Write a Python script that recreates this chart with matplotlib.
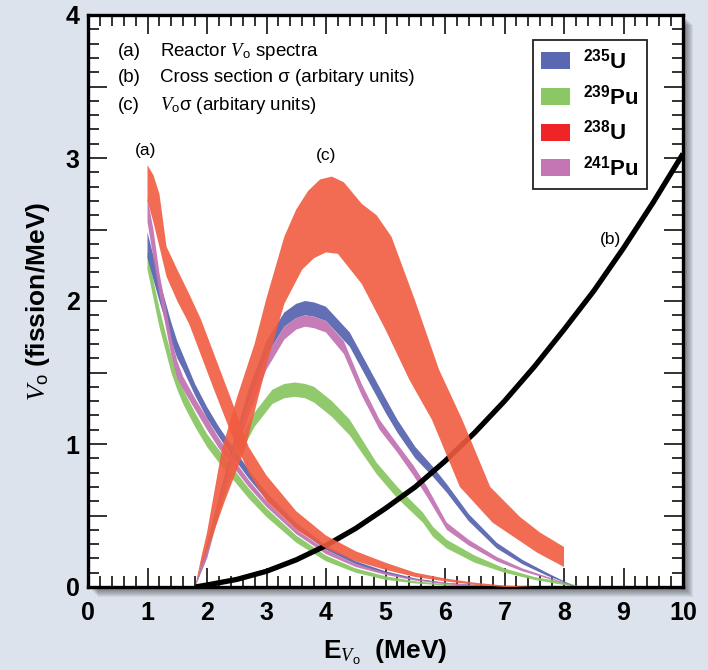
import matplotlib
matplotlib.use('Agg')
import matplotlib.pyplot as plt
import numpy as np
from matplotlib.patches import Patch, Rectangle

plt.rcParams['font.family'] = ['Liberation Sans', 'DejaVu Sans']
plt.rcParams['mathtext.fontset'] = 'custom'
plt.rcParams['mathtext.it'] = 'Liberation Serif:italic'
plt.rcParams['mathtext.rm'] = 'Liberation Sans'
plt.rcParams['mathtext.bf'] = 'Liberation Sans:bold'

# ── data ─────────────────────────────────────────────────────────────────────
# (a) reactor spectra, bands (upper / lower)
u5a_e  = [1.0, 1.2, 1.4, 1.5, 1.6, 1.8, 2.0, 2.2, 2.4, 2.7, 3.0, 3.5, 4.0, 4.5, 5.0, 5.5, 6.0, 6.5, 7.0, 7.5]
u5a_hi = [2.48, 2.15, 1.85, 1.72, 1.62, 1.42, 1.26, 1.12, 1.0, 0.82, 0.66, 0.45, 0.29, 0.18, 0.11, 0.06, 0.03, 0.015, 0.005, 0.0]
u5a_lo = [2.30, 2.0, 1.72, 1.60, 1.52, 1.34, 1.18, 1.05, 0.93, 0.76, 0.61, 0.41, 0.26, 0.16, 0.09, 0.05, 0.025, 0.01, 0.0, 0.0]

pu9a_e  = [1.0, 1.2, 1.4, 1.5, 1.6, 1.8, 2.0, 2.2, 2.4, 2.7, 3.0, 3.5, 4.0, 4.5, 5.0, 5.5, 6.0, 6.5, 7.0, 7.5]
pu9a_hi = [2.34, 1.95, 1.62, 1.48, 1.38, 1.22, 1.07, 0.96, 0.85, 0.69, 0.55, 0.36, 0.22, 0.13, 0.075, 0.04, 0.02, 0.01, 0.0, 0.0]
pu9a_lo = [2.22, 1.82, 1.50, 1.38, 1.28, 1.12, 0.98, 0.87, 0.77, 0.62, 0.49, 0.31, 0.18, 0.10, 0.05, 0.025, 0.01, 0.0, 0.0, 0.0]

u8a_e  = [1.0, 1.1, 1.2, 1.32, 1.5, 1.7, 1.9, 2.1, 2.4, 2.7, 3.0, 3.5, 4.0, 4.5, 5.0, 5.5, 6.0, 6.5, 7.0, 7.5]
u8a_hi = [2.95, 2.88, 2.75, 2.38, 2.22, 2.05, 1.87, 1.65, 1.32, 0.98, 0.78, 0.53, 0.36, 0.25, 0.17, 0.10, 0.06, 0.03, 0.01, 0.0]
u8a_lo = [2.70, 2.55, 2.38, 2.17, 2.0, 1.84, 1.62, 1.40, 1.08, 0.80, 0.60, 0.40, 0.27, 0.18, 0.12, 0.07, 0.04, 0.015, 0.0, 0.0]

pu1a_e  = [1.0, 1.1, 1.2, 1.4, 1.5, 1.6, 1.8, 2.0, 2.2, 2.4, 2.7, 3.0, 3.5, 4.0, 4.5, 5.0, 5.5, 6.0, 6.5, 7.0]
pu1a_hi = [2.72, 2.5, 2.2, 1.75, 1.58, 1.47, 1.32, 1.18, 1.04, 0.92, 0.75, 0.60, 0.40, 0.26, 0.16, 0.10, 0.055, 0.03, 0.01, 0.0]
pu1a_lo = [2.55, 2.3, 2.05, 1.62, 1.46, 1.38, 1.24, 1.10, 0.97, 0.86, 0.70, 0.56, 0.37, 0.23, 0.14, 0.085, 0.045, 0.02, 0.005, 0.0]

# (c) spectrum x cross section
u5c_e  = [1.8, 2.0, 2.4, 2.7, 3.0, 3.3, 3.5, 3.65, 3.8, 4.0, 4.4, 4.7, 5.0, 5.2, 5.5, 5.8, 6.03, 6.4, 6.87, 7.3, 7.71, 8.2]
u5c_hi = [0, 0.3, 0.95, 1.38, 1.72, 1.92, 1.98, 2.0, 1.99, 1.96, 1.78, 1.55, 1.32, 1.17, 0.98, 0.84, 0.72, 0.51, 0.31, 0.19, 0.10, 0.0]
u5c_lo = [0, 0.22, 0.85, 1.27, 1.62, 1.82, 1.88, 1.90, 1.89, 1.86, 1.68, 1.45, 1.22, 1.08, 0.90, 0.77, 0.66, 0.46, 0.27, 0.16, 0.08, 0.0]

pu9c_e  = [1.8, 2.0, 2.2, 2.5, 2.8, 3.1, 3.3, 3.48, 3.65, 3.8, 4.1, 4.4, 4.85, 5.2, 5.63, 5.8, 6.03, 6.5, 7.0, 7.5, 8.05, 8.3]
pu9c_hi = [0, 0.28, 0.58, 0.98, 1.22, 1.38, 1.42, 1.43, 1.42, 1.40, 1.30, 1.17, 0.87, 0.70, 0.52, 0.42, 0.33, 0.22, 0.13, 0.07, 0.03, 0.0]
pu9c_lo = [0, 0.2, 0.5, 0.88, 1.12, 1.28, 1.32, 1.33, 1.32, 1.29, 1.19, 1.06, 0.79, 0.62, 0.45, 0.35, 0.27, 0.17, 0.10, 0.05, 0.01, 0.0]

pu1c_e  = [1.8, 2.0, 2.4, 2.7, 3.0, 3.3, 3.5, 3.65, 3.8, 4.0, 4.3, 4.6, 4.9, 5.2, 5.47, 5.7, 6.03, 6.4, 6.87, 7.3, 7.8, 8.2]
pu1c_hi = [0, 0.28, 0.9, 1.3, 1.62, 1.82, 1.88, 1.90, 1.89, 1.86, 1.72, 1.42, 1.17, 1.0, 0.85, 0.70, 0.45, 0.33, 0.21, 0.13, 0.06, 0.0]
pu1c_lo = [0, 0.2, 0.82, 1.2, 1.52, 1.73, 1.80, 1.82, 1.81, 1.78, 1.63, 1.34, 1.10, 0.94, 0.78, 0.63, 0.40, 0.29, 0.18, 0.11, 0.05, 0.0]

u8c_hi_e = [1.8, 1.9, 2.0, 2.25, 2.5, 2.8, 3.0, 3.3, 3.5, 3.7, 3.9, 4.1, 4.3, 4.6, 4.85, 5.1, 5.5, 5.9, 6.29, 6.76, 7.26, 7.6, 8.0]
u8c_hi   = [0.0, 0.2, 0.38, 0.96, 1.32, 1.70, 2.02, 2.45, 2.64, 2.77, 2.85, 2.87, 2.83, 2.68, 2.60, 2.45, 2.0, 1.52, 1.17, 0.70, 0.49, 0.38, 0.28]
u8c_lo_e = [1.8, 1.9, 2.0, 2.3, 2.65, 3.0, 3.3, 3.6, 3.8, 4.0, 4.2, 4.6, 5.0, 5.4, 5.78, 6.25, 6.8, 7.55, 8.0]
u8c_lo   = [0.0, 0.15, 0.25, 0.6, 0.98, 1.55, 1.98, 2.22, 2.30, 2.34, 2.33, 2.12, 1.80, 1.45, 1.17, 0.70, 0.45, 0.24, 0.14]

# (b) cross section
xs_e = [1.8, 2.0, 2.5, 3.0, 3.5, 4.0, 4.5, 5.0, 5.5, 6.0, 6.5, 7.0, 7.5, 8.0, 8.5, 9.0, 9.5, 10.0]
xs_y = [0, 0.014, 0.053, 0.11, 0.19, 0.29, 0.41, 0.55, 0.70, 0.88, 1.08, 1.30, 1.54, 1.80, 2.07, 2.37, 2.69, 3.03]

iso_labels = [r'$^{\mathbf{235}}$U', r'$^{\mathbf{239}}$Pu', r'$^{\mathbf{238}}$U', r'$^{\mathbf{241}}$Pu']
x_ticks = list(range(11))
y_ticks = [0, 0.5, 1, 1.5, 2, 2.5, 3, 3.5, 4]
y_ticklabels = ['0', '', '1', '', '2', '', '3', '', '4']

BLUE, GREEN, RED, PURPLE = '#5a67b1', '#8bc765', '#f15c40', '#c376b3'
RED_KEY = '#ee2427'
BG = '#dce3ec'

# ── plot ─────────────────────────────────────────────────────────────────────
fig = plt.figure(figsize=(7.08, 6.70), dpi=100, facecolor=BG)
pos = [88 / 708, 1 - 587 / 670, 595 / 708, 572 / 670]
ax = fig.add_axes(pos)
ax.set_zorder(2)

# soft drop shadow behind the frame
for i in range(10):
    d = (1 + i) / 708
    fig.patches.append(Rectangle((pos[0] + d, pos[1] - d * 708 / 670), pos[2], pos[3],
                                 transform=fig.transFigure, facecolor='#000000',
                                 alpha=0.06, edgecolor='none', zorder=0))


def band(e, hi, lo, color, e_lo=None, alpha=0.95, z=2):
    e_lo = e if e_lo is None else e_lo
    ax.fill(np.r_[e, e_lo[::-1]], np.r_[hi, lo[::-1]], color=color,
            alpha=alpha, lw=0, zorder=z)


ax.plot(xs_e, xs_y, color='black', lw=3.8, zorder=3, solid_capstyle='butt')

band(pu9a_e, pu9a_hi, pu9a_lo, GREEN)
band(pu9c_e, pu9c_hi, pu9c_lo, GREEN)
band(u5a_e, u5a_hi, u5a_lo, BLUE)
band(u5c_e, u5c_hi, u5c_lo, BLUE)
band(pu1a_e, pu1a_hi, pu1a_lo, PURPLE)
band(pu1c_e, pu1c_hi, pu1c_lo, PURPLE)
band(u8a_e, u8a_hi, u8a_lo, RED, alpha=0.9, z=4)
band(u8c_hi_e, u8c_hi, u8c_lo, RED, e_lo=u8c_lo_e, alpha=0.9, z=4)

ax.set_xlim(0, 10)
ax.set_ylim(0, 4)

ax.set_xticks(x_ticks)
ax.set_xticklabels([str(t) for t in x_ticks], fontsize=18, fontweight='bold')
ax.set_xticks(np.arange(0, 10.01, 0.2), minor=True)
ax.set_yticks(y_ticks)
ax.set_yticklabels(y_ticklabels, fontsize=18, fontweight='bold')
ax.set_yticks(np.arange(0, 4.01, 0.1), minor=True)
ax.tick_params(which='both', direction='in', top=True, right=True, width=1.3, color='#222222')
ax.tick_params(which='major', length=14, pad=6)
ax.tick_params(axis='x', which='major', pad=10)
ax.tick_params(which='minor', length=8)
for s in ax.spines.values():
    s.set_linewidth(2.4)

ax.set_xlabel(r'E$_{\mathit{V}_{\rm o}}$  (MeV)', fontsize=19, fontweight='bold', labelpad=9)
ax.set_ylabel(r'$\mathit{V}_{\rm o}$ (fission/MeV)', fontsize=19, fontweight='bold', labelpad=10)

# notes
tk = dict(fontsize=13.5, va='center', zorder=6)
ax.text(0.50, 3.745, '(a)', **tk)
ax.text(1.21, 3.745, r'Reactor $\mathit{V}_{\rm o}$ spectra', **tk)
ax.text(0.50, 3.565, '(b)', **tk)
ax.text(1.21, 3.565, 'Cross section σ (arbitary units)', **tk)
ax.text(0.50, 3.37, '(c)', **tk)
ax.text(1.21, 3.37, r'$\mathit{V}_{\rm o}$σ (arbitary units)', **tk)

ax.text(0.97, 3.05, '(a)', fontsize=12.5, ha='center', va='center')
ax.text(4.0, 3.02, '(c)', fontsize=12.5, ha='center', va='center')
ax.text(8.78, 2.43, '(b)', fontsize=12.5, ha='center', va='center')

handles = [Patch(facecolor=c, edgecolor='none') for c in (BLUE, GREEN, RED_KEY, PURPLE)]
leg = ax.legend(handles, iso_labels, loc='upper right', bbox_to_anchor=(0.9395, 0.956),
                borderaxespad=0, frameon=True, fancybox=False, edgecolor='#222222',
                framealpha=1, prop={'weight': 'bold', 'size': 16}, handlelength=1.3,
                handleheight=0.8, labelspacing=0.5, borderpad=0.4, handletextpad=0.55)
leg.get_frame().set_linewidth(1.3)
leg.set_zorder(7)

fig.savefig('out.png', dpi=100, facecolor=BG)
